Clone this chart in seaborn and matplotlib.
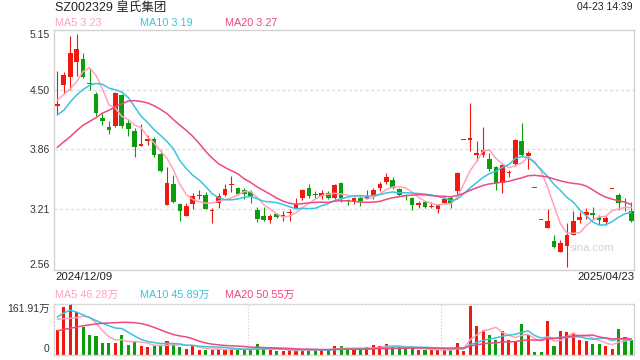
import numpy as np
import pandas as pd
import matplotlib
matplotlib.use("Agg")
import matplotlib.pyplot as plt
import seaborn as sns

# ---------------- data ----------------
title = "SZ002329 皇氏集团"
timestamp = "04-23 14:39"
start_date = "2024/12/09"
end_date = "2025/04/23"
watermark = "sina.com"

opens = [4.33, 4.55, 4.64, 4.80, 4.83, 4.58, 4.46, 4.20, 4.10, 4.11,
         4.44, 4.14, 4.06, 3.90, 3.95, 3.97, 3.81, 3.26, 3.49, 3.27,
         3.14, 3.27, 3.35, 3.37, 3.19, 3.28, 3.37, 3.47, 3.44, 3.42,
         3.40, 3.20, 3.14, 3.10, 3.16, 3.14, 3.17, 3.22, 3.33, 3.44,
         3.38, 3.36, 3.39, 3.33, 3.50, 3.31, 3.29, 3.33, 3.32, 3.35,
         3.44, 3.51, 3.53, 3.43, 3.36, 3.33, 3.26, 3.29, 3.24, 3.22,
         3.28, 3.33, 3.41, 3.96, 3.96, 3.80, 3.80, 3.76, 3.67, 3.50,
         3.60, 3.70, 3.95, 3.79, 3.44, 3.10, 3.01, 2.87, 2.75, 2.82,
         2.93, 3.10, 3.15, 3.17, 3.13, 3.07, 3.43, 3.37, 3.24, 3.19]
highs = [4.70, 4.69, 5.08, 5.10, 4.90, 4.74, 4.48, 4.25, 4.16, 4.48,
         4.46, 4.19, 4.09, 4.13, 4.01, 3.99, 3.85, 3.67, 3.58, 3.28,
         3.28, 3.39, 3.42, 3.40, 3.23, 3.39, 3.49, 3.57, 3.45, 3.44,
         3.42, 3.24, 3.24, 3.16, 3.17, 3.19, 3.21, 3.33, 3.43, 3.48,
         3.41, 3.42, 3.41, 3.48, 3.51, 3.32, 3.34, 3.37, 3.42, 3.44,
         3.51, 3.60, 3.56, 3.44, 3.38, 3.34, 3.30, 3.30, 3.29, 3.27,
         3.35, 3.35, 3.61, 3.96, 4.36, 3.95, 4.10, 3.82, 3.68, 3.71,
         3.64, 3.97, 4.14, 3.84, 3.44, 3.10, 3.22, 2.93, 2.88, 3.06,
         3.19, 3.18, 3.23, 3.24, 3.15, 3.14, 3.43, 3.39, 3.33, 3.29]
lows = [4.23, 4.47, 4.50, 4.65, 4.63, 4.50, 4.22, 4.12, 4.02, 4.10,
        4.09, 4.00, 3.78, 3.90, 3.91, 3.78, 3.61, 3.26, 3.28, 3.09,
        3.14, 3.22, 3.32, 3.21, 3.06, 3.23, 3.36, 3.40, 3.37, 3.32,
        3.28, 3.08, 3.09, 3.06, 3.12, 3.09, 3.09, 3.21, 3.31, 3.33,
        3.33, 3.32, 3.32, 3.32, 3.29, 3.26, 3.27, 3.25, 3.32, 3.32,
        3.41, 3.48, 3.43, 3.36, 3.31, 3.20, 3.23, 3.23, 3.23, 3.17,
        3.28, 3.23, 3.38, 3.96, 3.84, 3.73, 3.78, 3.63, 3.42, 3.39,
        3.56, 3.68, 3.78, 3.65, 3.44, 3.10, 3.01, 2.79, 2.75, 2.59,
        2.93, 3.06, 3.11, 3.10, 3.05, 3.04, 3.43, 3.20, 3.19, 3.07]
closes = [4.35, 4.66, 4.90, 4.94, 4.64, 4.56, 4.25, 4.17, 4.07, 4.47,
          4.11, 4.08, 3.88, 3.92, 3.97, 3.80, 3.63, 3.50, 3.29, 3.19,
          3.25, 3.36, 3.37, 3.22, 3.20, 3.35, 3.43, 3.48, 3.38, 3.38,
          3.34, 3.11, 3.10, 3.14, 3.13, 3.15, 3.18, 3.27, 3.42, 3.36,
          3.37, 3.39, 3.33, 3.47, 3.33, 3.30, 3.33, 3.30, 3.35, 3.42,
          3.49, 3.56, 3.44, 3.37, 3.35, 3.26, 3.28, 3.24, 3.25, 3.26,
          3.32, 3.28, 3.60, 3.96, 3.98, 3.82, 3.85, 3.65, 3.50, 3.69,
          3.61, 3.96, 3.80, 3.82, 3.44, 3.10, 3.09, 2.80, 2.85, 2.93,
          3.09, 3.13, 3.18, 3.15, 3.10, 3.12, 3.43, 3.28, 3.23, 3.09]
volumes = [79, 151, 161.91, 135, 88, 62, 59, 38, 38, 38,
           62, 30, 41, 27, 23, 27, 27, 43, 36, 23,
           19, 27, 14, 14, 14, 19, 19, 19, 14, 14,
           14, 33, 19, 14, 11, 11, 14, 14, 16, 14,
           14, 17, 14, 27, 27, 17, 17, 17, 23, 30,
           27, 33, 27, 23, 17, 23, 14, 14, 14, 14,
           17, 14, 37, 12, 157, 92, 79, 62, 46, 75,
           46, 43, 98, 62, 8.5, 8.5, 108, 27, 74, 71,
           66, 48, 42, 35, 35, 26, 19, 82, 56, 48]

# moving-average values before a full window is available
ma5_head = [4.39, 4.45, 4.51, 4.59]
ma10_head = [4.23, 4.28, 4.37, 4.445, 4.505, 4.55, 4.57, 4.56, 4.52]
ma20_head = [3.88, 3.94, 3.995, 4.06, 4.12, 4.16, 4.20, 4.25, 4.28, 4.32,
             4.35, 4.38, 4.385, 4.375, 4.36, 4.33, 4.29, 4.245, 4.18]
vma5_head = [113, 115, 116, 118]
vma10_head = [120, 133, 142, 136, 127, 118, 109, 100, 92]
vma20_head = [76, 80, 84, 88, 92, 95, 98, 100, 101, 102,
              103, 103, 102, 99, 94, 87, 79, 71, 64]

ma_names = ["MA5", "MA10", "MA20"]
ma_windows = [5, 10, 20]
price_ma_text = ["3.23", "3.19", "3.27"]
vol_ma_text = ["46.28万", "45.89万", "50.55万"]
price_tick_labels = ["5.15", "4.50", "3.86", "3.21", "2.56"]
vol_tick_labels = ["161.91万", "0"]
vol_tick_values = [161.91, 0]

# ---------------- style ----------------
sns.set_style("white")
plt.rcParams['font.family'] = ['Liberation Sans', 'Noto Sans CJK SC', 'DejaVu Sans']

RED = '#f0190e'
GREEN = '#0c9c0c'
MA_COLORS = ['#ffa3ba', '#3cc3e0', '#ec4a80']
GRID = '#dedede'
FRAME = '#d2d2d2'

W, H = 640, 360
fig = plt.figure(figsize=(W / 100, H / 100), dpi=100)


def rect(x0, y0, x1, y1):
    return [x0 / W, 1 - y1 / H, (x1 - x0) / W, (y1 - y0) / H]


ax = fig.add_axes(rect(54, 29.7, 634, 269.7))
vax = fig.add_axes(rect(54, 304, 634, 354.5))

n = len(closes)
idx = np.arange(n)
o = np.array(opens); c = np.array(closes); h = np.array(highs); l = np.array(lows)
prev = np.concatenate([[o[0]], c[:-1]])
up = np.where(c > o, True, np.where(c < o, False, c >= prev))
cols = [RED if u else GREEN for u in up]

pmin, pmax = float(price_tick_labels[-1]), float(price_tick_labels[0])

# candles
ax.vlines(idx, l, h, colors=cols, linewidth=0.8, zorder=2)
body_bottom = np.minimum(o, c)
body_h = np.maximum(np.abs(c - o), 0.012)
ax.bar(idx, body_h, bottom=body_bottom, width=0.72, color=cols, linewidth=0, zorder=3)


def moving(values, window, head):
    s = pd.Series(values, dtype=float).rolling(window).mean()
    s.iloc[:len(head)] = head
    return s.values


price_heads = [ma5_head, ma10_head, ma20_head]
vol_heads = [vma5_head, vma10_head, vma20_head]
for win, head, col in zip(ma_windows, price_heads, MA_COLORS):
    sns.lineplot(x=idx, y=moving(closes, win, head), ax=ax, color=col,
                 linewidth=1.1, legend=False, zorder=4)

for yv in price_tick_labels[1:-1]:
    ax.axhline(float(yv), color=GRID, linewidth=1, linestyle=(0, (2.2, 1.8)), zorder=1)

ax.set_xlim(-0.51, n - 0.6)
ax.set_ylim(pmin, pmax)
ax.set_xticks([])
ax.set_yticks([float(t) for t in price_tick_labels])
ax.set_yticklabels(price_tick_labels)
ax.tick_params(axis='y', length=0, pad=3.2, labelsize=7.5, labelcolor='#333333')
tl = ax.get_yticklabels()
tl[0].set_verticalalignment('top')
tl[-1].set_verticalalignment('bottom')
ax.set_xlabel(''); ax.set_ylabel('')
for s in ax.spines.values():
    s.set_color(FRAME); s.set_linewidth(1.0); s.set_visible(True)

ax.text(0.927, 0.09, watermark, transform=ax.transAxes, ha='center', va='center',
        fontsize=8, color='#d3d3d3')

# volume panel
vax.bar(idx, volumes, width=0.48, color=cols, linewidth=0, zorder=2)
for win, head, col in zip(ma_windows, vol_heads, MA_COLORS):
    sns.lineplot(x=idx, y=moving(volumes, win, head), ax=vax, color=col,
                 linewidth=1.1, legend=False, zorder=4)
for xv in [29.5, 59.5]:
    vax.axvline(xv, color='#d6d6d6', linewidth=0.9, linestyle=(0, (1.2, 1.4)), zorder=1)
vax.set_xlim(-0.51, n - 0.6)
vax.set_ylim(0, vol_tick_values[0])
vax.set_xticks([])
vax.set_yticks(vol_tick_values)
vax.set_yticklabels(vol_tick_labels)
vax.tick_params(axis='y', length=0, pad=3.2, labelsize=7.5, labelcolor='#333333')
vl = vax.get_yticklabels()
vl[0].set_verticalalignment('top')
vl[-1].set_verticalalignment('bottom')
vax.set_xlabel(''); vax.set_ylabel('')
for name, s in vax.spines.items():
    s.set_visible(True)
    s.set_color(FRAME)
    s.set_linewidth(1.0)
    if name != 'right':
        s.set_linestyle((0, (1.2, 1.4)))

# texts
def ftext(x, y, s, **kw):
    fig.text(x / W, 1 - y / H, s, **kw)

ftext(55, 7.5, title, fontsize=9, color='#222222', va='center', ha='left')
ftext(633, 7.5, timestamp, fontsize=7.5, color='#222222', va='center', ha='right')
legend_x = [55, 140.5, 225]
for x, name, val, col in zip(legend_x, ma_names, price_ma_text, MA_COLORS):
    ftext(x, 23.5, f"{name} {val}", fontsize=7.8, color=col, va='center', ha='left')
for x, name, val, col in zip(legend_x, ma_names, vol_ma_text, MA_COLORS):
    ftext(x, 295, f"{name} {val}", fontsize=7.8, color=col, va='center', ha='left')
ftext(55, 277.5, start_date, fontsize=8.2, color='#222222', va='center', ha='left')
ftext(634, 277.5, end_date, fontsize=8.2, color='#222222', va='center', ha='right')

fig.savefig("out.png", dpi=100, facecolor='white')
